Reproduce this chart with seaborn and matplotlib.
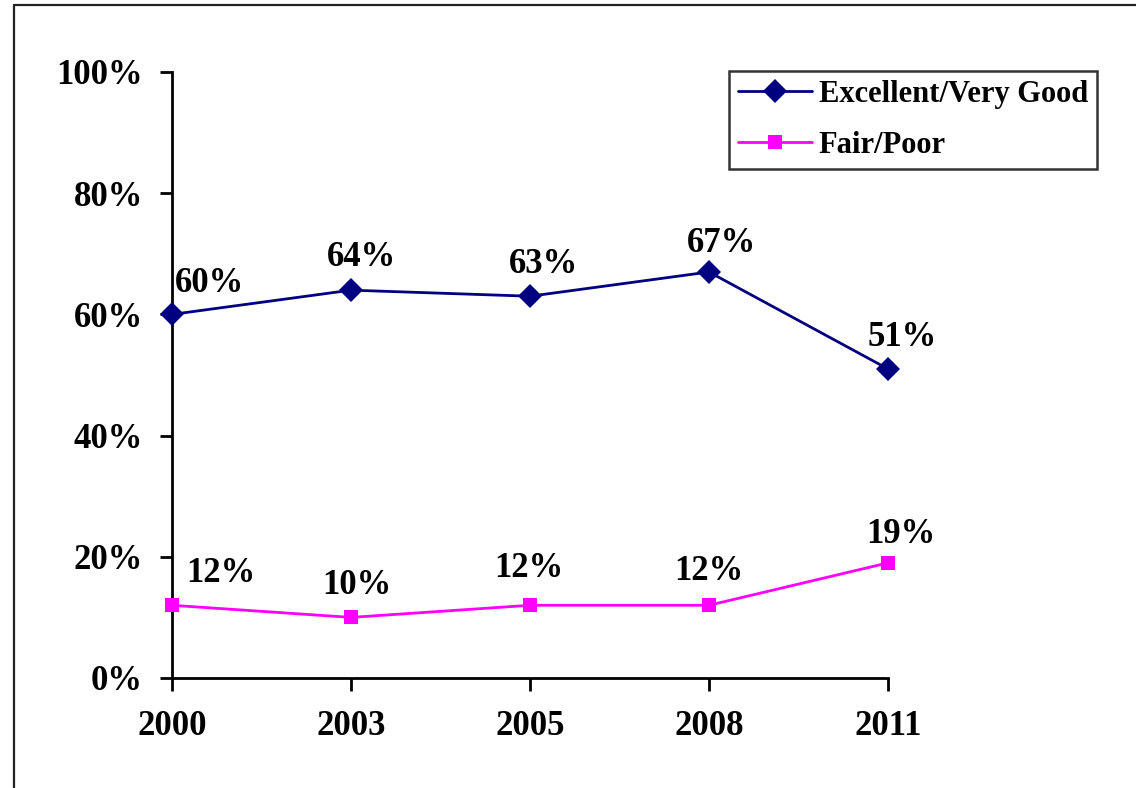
import matplotlib
matplotlib.use("Agg")
import matplotlib.pyplot as plt
import seaborn as sns
import pandas as pd
from matplotlib.lines import Line2D

years = ["2000", "2003", "2005", "2008", "2011"]
excellent = [60, 64, 63, 67, 51]
fair = [12, 10, 12, 12, 19]
series_names = ["Excellent/Very Good", "Fair/Poor"]
y_ticks = [0, 20, 40, 60, 80, 100]

sns.set_theme(style="white")
plt.rcParams['font.family'] = ['Liberation Serif', 'DejaVu Serif']
plt.rcParams['font.weight'] = 'bold'
plt.rcParams['text.color'] = 'black'
plt.rcParams['xtick.color'] = 'black'
plt.rcParams['ytick.color'] = 'black'
plt.rcParams['xtick.labelcolor'] = 'black'
plt.rcParams['ytick.labelcolor'] = 'black'

df = pd.DataFrame({
    "pos": list(range(len(years))) * 2,
    "value": excellent + fair,
    "series": [series_names[0]] * len(years) + [series_names[1]] * len(years),
})

fig = plt.figure(figsize=(11.36, 7.88), dpi=100)
ax = fig.add_axes([172/1136, 1-678/788, (888-172)/1136, (678-72)/788])

colors = {series_names[0]: "#000080", series_names[1]: "#FF00FF"}
markers = {series_names[0]: "D", series_names[1]: "s"}
sizes = {series_names[0]: 12.5, series_names[1]: 10.5}

for name in series_names:
    sub = df[df["series"] == name]
    sns.lineplot(data=sub, x="pos", y="value", ax=ax, color=colors[name],
                 marker=markers[name], markersize=sizes[name], linewidth=2,
                 markeredgewidth=0, clip_on=False, legend=False, zorder=3)

# value labels (offsets in pixels: centre x, baseline above point)
offs_e = [(38, 22), (11, 24), (13, 23.5), (12, 19.5), (14, 23)]
offs_f = [(49, 23), (6, 23), (-1, 28), (0, 25), (13, 20)]
for i, (v, o) in enumerate(zip(excellent, offs_e)):
    ax.annotate(f"{v}%", (i, v), xytext=o, textcoords="offset pixels",
                ha="center", va="baseline", fontsize=25, fontweight="bold", color="black")
for i, (v, o) in enumerate(zip(fair, offs_f)):
    ax.annotate(f"{v}%", (i, v), xytext=o, textcoords="offset pixels",
                ha="center", va="baseline", fontsize=25, fontweight="bold", color="black")

ax.set_xlim(0, len(years) - 1)
ax.set_ylim(0, 100)
ax.set_xticks(range(len(years)), labels=years)
ax.set_yticks(y_ticks, labels=[f"{t}%" for t in y_ticks])
ax.set_xlabel("")
ax.set_ylabel("")
for s in ["top", "right"]:
    ax.spines[s].set_visible(False)
for s in ["left", "bottom"]:
    ax.spines[s].set_color("black")
    ax.spines[s].set_linewidth(2.0)
ax.tick_params(axis="both", which="major", direction="out", length=9, width=2.0,
               color="black", labelsize=25, labelcolor="black", left=True, bottom=True)
ax.tick_params(axis="y", pad=12)
ax.tick_params(axis="x", pad=14)
for lab in ax.get_xticklabels() + ax.get_yticklabels():
    lab.set_fontweight("bold")
ax.grid(False)

handles = [Line2D([], [], color=colors[n], marker=markers[n], markersize=sizes[n],
                  linewidth=2, markeredgewidth=0) for n in series_names]
leg = fig.legend(handles, series_names, loc="upper left",
                 bbox_to_anchor=(729/1136, 1-71/788), frameon=True,
                 fancybox=False, prop={"family": "Liberation Serif", "weight": "bold", "size": 22},
                 handlelength=2.43, handletextpad=0.2, labelspacing=0.72,
                 borderpad=0.3, borderaxespad=0)
leg.get_frame().set_edgecolor("black")
leg.get_frame().set_linewidth(1.8)
for t in leg.get_texts():
    t.set_color("black")

# figure border (left and top edges)
fig.add_artist(Line2D([14/1136, 14/1136], [0, 1-5/788], transform=fig.transFigure,
                      color="#222222", linewidth=1.6))
fig.add_artist(Line2D([14/1136, 1], [1-5/788, 1-5/788], transform=fig.transFigure,
                      color="#222222", linewidth=1.6))

fig.savefig("out.png", dpi=100)
